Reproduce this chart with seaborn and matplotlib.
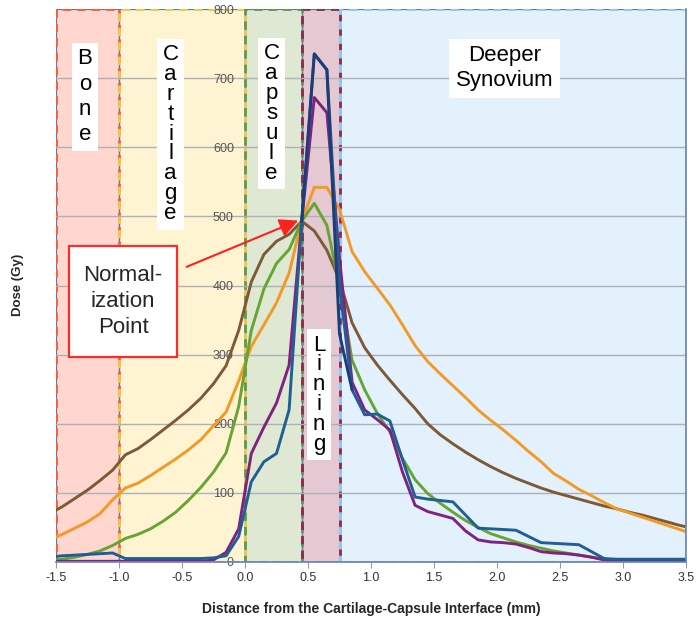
import numpy as np
import pandas as pd
import matplotlib
matplotlib.use("Agg")
import matplotlib.pyplot as plt
from matplotlib.patches import Rectangle
import seaborn as sns

nan = np.nan
x_mm = [-1.5, -1.45, -1.35, -1.25, -1.15, -1.05, -0.95, -0.85, -0.75, -0.65, -0.55,
        -0.45, -0.35, -0.25, -0.15, -0.05, 0.05, 0.15, 0.25, 0.35, 0.45, 0.55, 0.65,
        0.75, 0.85, 0.95, 1.05, 1.15, 1.25, 1.35, 1.45, 1.55, 1.65, 1.75, 1.85, 1.95,
        2.05, 2.15, 2.25, 2.35, 2.45, 2.55, 2.65, 2.75, 2.85, 2.95, 3.05, 3.15, 3.25,
        3.35, 3.45, 3.5]

brown = [75, 80, 92, 104, 118, 133, 155, 164, 177, 191, 205, 220, 237, 258, 284, 335,
         405, 445, 464, 474, 493, 479, 451, 408, 346, 310, 285, 263, 242, 222, 200, 184,
         171, 159, 148, 138, 129, 121, 114, 107, 101, 96, 91, 86, 81, 77, 72, 68, 63,
         58, 53, 51]
orange = [36, 40, 49, 58, 70, 90, 107, 114, 125, 137, 149, 162, 177, 197, 217, 262,
          312, 343, 375, 418, 493, 542, 542, 510, 449, 420, 396, 372, 343, 313, 290, 272,
          255, 238, 220, 205, 191, 176, 160, 145, 128, 117, 105, 96, 86, 77, 71, 65, 59,
          53, 47, 44]
green = [3, 4, 7, 11, 16, 24, 34, 40, 48, 59, 72, 89, 108, 130, 158, 225, 335, 395,
         432, 452, 493, 519, 487, 400, 292, 249, 215, 188, 150, 119, 99, 85, 72, 60, 50,
         41, 35, 29, 24, 20, 16, 13, 10, 7, 4, 3, 2, 2, 2, 2, 2, 2]
purple = [1, 1, 1, 1, 1, 1, 1, 1, 1, 1, 1, 1, 1, 3, 14, 48, 157, 195, 230, 285, 493,
          672, 650, 440, 260, 220, 206, 191, 130, 82, 73, 68, 63, 45, 32, 29, 28, 26,
          21, 15, 13, 12, 10, 7, 3, 1, 1, 1, 1, 1, 1, 1]
teal = [8, 9, 10, 11, 12, 13, 5, 5, 5, 5, 5, 5, 5, 6, 9, 37, 116, 145, 157, 220, 493,
        735, 712, 400, 249, 213, 214, 204, 148, 94, 91, 89, 87, 68, 49, 48, 47, 46, 37,
        28, 27, 26, 25, 15, 5, 4, 4, 4, 4, 4, 4, 4]
navy = [nan, nan, nan, nan, nan, nan, nan, nan, nan, nan, nan, nan, nan, nan, nan, nan,
        nan, nan, nan, nan, 493, 735, 712, 330, 249, nan, nan, nan, nan, nan, nan, nan,
        nan, nan, nan, nan, nan, nan, nan, nan, nan, nan, nan, nan, nan, nan, nan, nan,
        nan, nan, nan, nan]

series_names = ["brown", "orange", "green", "purple", "teal", "navy"]
series_values = [brown, orange, green, purple, teal, navy]
series_colors = ["#7d5a35", "#f39a26", "#65a530", "#7f2380", "#1f5f95", "#203c78"]

regions = [(-1.5, -1.0, "#ffd7cf", "#ff5a33", "Bone"),
           (-1.0, 0.0, "#fff4d2", "#f2c646", "Cartilage"),
           (0.0, 0.45, "#dee8d3", "#5f9a4a", "Capsule"),
           (0.45, 0.75, "#e4c9d2", "#8b2a4a", "Lining"),
           (0.75, 3.5, "#e3f1fd", "#8cc8f5", "Deeper\nSynovium")]

x_ticks = [-1.5, -1.0, -0.5, 0.0, 0.5, 1.0, 1.5, 2.0, 2.5, 3.0, 3.5]
y_ticks = [0, 100, 200, 300, 400, 500, 600, 700, 800]

sns.set_theme(style="white")
plt.rcParams["font.family"] = ["Liberation Sans", "DejaVu Sans"]
plt.rcParams["axes.unicode_minus"] = False

fig = plt.figure(figsize=(6.96, 6.22), dpi=100)
ax = fig.add_axes([56 / 696, 1 - 562 / 622, 630 / 696, 553 / 622])

for x0, x1, fc, ec, _ in regions:
    ax.axvspan(x0, x1, facecolor=fc, edgecolor="none", zorder=0.1)
    ax.axvspan(x0, x1, facecolor="none", edgecolor="#5a7ab5", lw=0.9, zorder=0.2)
    ax.axvspan(x0, x1, facecolor="none", edgecolor=ec, lw=2.0, ls=(0, (3, 2.2)), zorder=0.3)
ax.axhline(0, color="#e8603a", lw=2.0, ls=(0, (3, 2.2)), zorder=0.35)

for yv in y_ticks[1:-1]:
    ax.axhline(yv, color="#aab0bc", lw=1.0, zorder=0.5)

df = pd.DataFrame({"x": x_mm})
for name, vals in zip(series_names, series_values):
    df[name] = vals
for name, col in zip(series_names, series_colors):
    sub = df[["x", name]].dropna()
    sns.lineplot(data=sub, x="x", y=name, color=col, lw=2.1, ax=ax,
                 estimator=None, sort=False, zorder=2)

ax.set_xlim(-1.5, 3.5)
ax.set_ylim(0, 800)
ax.set_xticks(x_ticks)
ax.set_xticklabels([f"{v:.1f}" for v in x_ticks])
ax.set_yticks(y_ticks)
ax.set_yticklabels([str(v) for v in y_ticks])
ax.spines["left"].set_position(("data", 0))
ax.spines["left"].set_color("none")
ax.spines["right"].set_color("#6a88bb")
ax.spines["top"].set_color("none")
ax.spines["bottom"].set_color("#6a88bb")
ax.tick_params(axis="y", length=0, pad=8, labelsize=9, labelcolor="#555555")
ax.tick_params(axis="x", length=4, width=0.8, color="#9a9a9a", pad=3,
               labelsize=9, labelcolor="#333333", bottom=True)
ax.set_xlabel("Distance from the Cartilage-Capsule Interface (mm)",
              fontsize=10, fontweight="bold", labelpad=13)
ax.set_ylabel("")
fig.text(18 / 696, 1 - 285 / 622, "Dose (Gy)", rotation=90, ha="center", va="center",
         fontsize=9.5, fontweight="bold")

label_pos = {"Bone": (-1.27, 673, 1.27), "Cartilage": (-0.59, 619, 0.93),
             "Capsule": (0.21, 649, 0.93), "Lining": (0.587, 242, 0.93)}
for name, (lx, ly, ls) in label_pos.items():
    ax.text(lx, ly, "\n".join(name), ha="center", va="center", fontsize=16,
            linespacing=ls, color="black", zorder=3,
            bbox=dict(boxstyle="square,pad=0.25", fc="white", ec="none"))
ax.text(2.06, 714, "Deeper\nSynovium", ha="center", va="center", fontsize=16,
        linespacing=1.25, color="black", zorder=3,
        bbox=dict(boxstyle="square,pad=0.3", fc="white", ec="none"))

ax.add_patch(Rectangle((-1.397, 296.5), 0.857, 160.5, facecolor="white",
                       edgecolor="#ff2a2a", lw=1.6, zorder=3))
ax.text(-0.968, 377, "Normal-\nization\nPoint", ha="center", va="center",
        fontsize=16, linespacing=1.3, zorder=4)
ax.annotate("", xy=(0.423, 494), xytext=(-0.463, 427),
            arrowprops=dict(arrowstyle="-|>,head_length=0.45,head_width=0.22",
                            color="#ff2020", lw=1.5, mutation_scale=25,
                            shrinkA=0, shrinkB=0), zorder=4)

fig.savefig("out.png", dpi=100)
